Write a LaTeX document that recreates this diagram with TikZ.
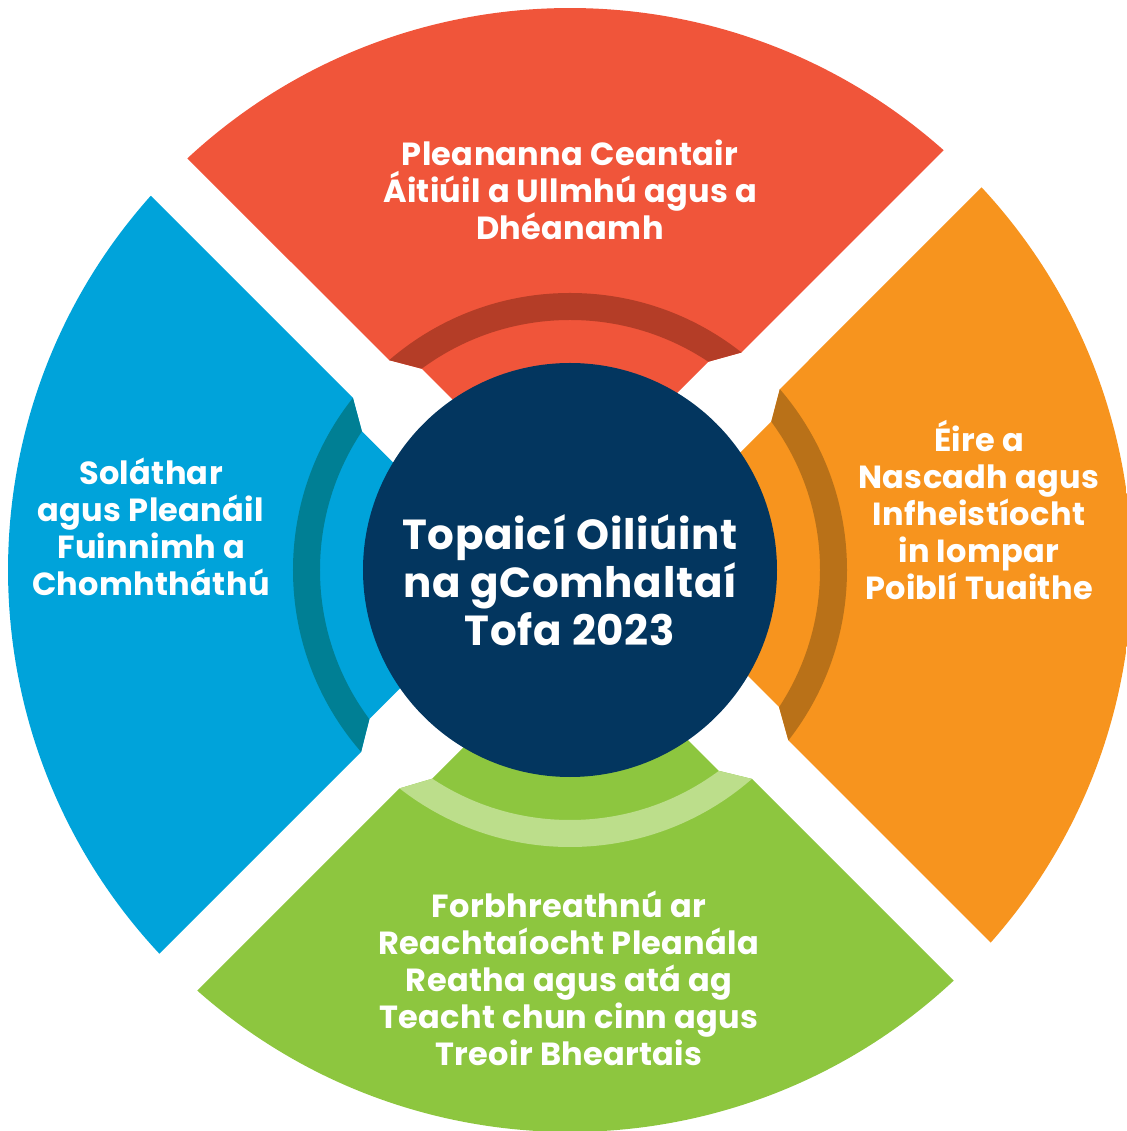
\documentclass[tikz,border=0pt]{standalone}
\usepackage{fontspec}
\setmainfont{Poppins}
\usetikzlibrary{calc}
\definecolor{cred}{HTML}{F0553A}
\definecolor{credband}{HTML}{B43D27}
\definecolor{corange}{HTML}{F7941E}
\definecolor{corangeband}{HTML}{B97118}
\definecolor{cgreen}{HTML}{8DC63F}
\definecolor{cgreenband}{HTML}{BCDE8B}
\definecolor{cblue}{HTML}{00A3DA}
\definecolor{cblueband}{HTML}{007F94}
\definecolor{cnavy}{HTML}{03365F}
% #1 axis angle, #2 ccw outer offset, #3 cw outer offset, #4 ccw inner offset, #5 cw inner offset, #6 fill, #7 band
\newcommand{\mysector}[7]{%
  \begin{scope}
    \pgfmathsetmacro\tcwR{#1+45-acos(#3/(1.41421*562))}
    \pgfmathsetmacro\tccwR{#1-45+acos(#2/(1.41421*562))}
    \pgfmathsetmacro\tccwB{#1-45+acos(#2/(1.41421*277))}
    \pgfmathsetmacro\tccwI{#1-45+acos(#4/(1.41421*250))}
    \pgfmathsetmacro\tcwI{#1+45-acos(#5/(1.41421*250))}
    \pgfmathsetmacro\tcwB{#1+45-acos(#3/(1.41421*277))}
    \clip (\tcwR:562) arc[start angle=\tcwR, end angle=\tccwR, radius=562]
      -- (\tccwB:277) -- (\tccwI:250)
      -- ($(#1-45:#4/1.41421)+(#1+45:#5/1.41421)$)
      -- (\tcwI:250) -- (\tcwB:277) -- cycle;
    \fill[#6] (-600,-600) rectangle (600,600);
    \fill[#7, even odd rule] (0,0) circle[radius=277] (0,0) circle[radius=250];
  \end{scope}}
\begin{document}
\begin{tikzpicture}[x=1pt,y=1pt,
  lbl/.style={text=white, align=center, inner sep=0pt,
    font=\fontsize{32}{37}\selectfont\bfseries\addfontfeatures{LetterSpace=1}},
  hublbl/.style={text=white, align=center, inner sep=0pt,
    font=\fontsize{42}{48}\selectfont\bfseries\addfontfeatures{LetterSpace=1.75}}]
\useasboundingbox (-570,-561) rectangle (556,570);
\mysector{90}{29}{46}{53}{70}{cred}{credband}
\mysector{0}{29}{48}{53}{72}{corange}{corangeband}
\mysector{270}{27}{48}{52}{71}{cgreen}{cgreenband}
\mysector{180}{27}{45}{51.5}{69.5}{cblue}{cblueband}
\node (hub) [circle, fill=cnavy, minimum size=414pt, inner sep=0pt] at (0,0) {};
\node (hubtext) [hublbl] at (0,-10.5) {Topaicí Oiliúint\\na gComhaltaí\\Tofa 2023};
\node (toptext) [lbl] at (0,380.5) {Pleananna Ceantair\\Áitiúil a Ullmhú agus a\\Dhéanamh};
\node (lefttext) [lbl] at (-419,43.5) {Soláthar\\agus Pleanáil\\Fuinnimh a\\Chomhtháthú};
\node (righttext) [lbl] at (409,60) {Éire a\\Nascadh agus\\Infheistíocht\\in Iompar\\Poiblí Tuaithe};
\node (bottomtext) [lbl] at (-1,-408) {Forbhreathnú ar\\Reachtaíocht Pleanála\\Reatha agus atá ag\\Teacht chun cinn agus\\Treoir Bheartais};
\end{tikzpicture}
\end{document}
